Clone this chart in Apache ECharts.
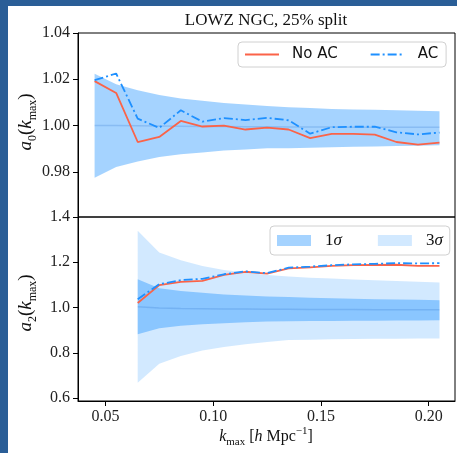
<!DOCTYPE html>
<html>
<head>
<meta charset="utf-8">
<script src="https://cdn.jsdelivr.net/npm/echarts@6/dist/echarts.min.js"></script>
<style>
html,body{margin:0;padding:0;background:#fff;}
#chart{width:457px;height:453px;}
</style>
</head>
<body>
<div id="chart"></div>
<script>
// ---- data ----
var kmax = [0.045,0.055,0.065,0.075,0.085,0.095,0.105,0.115,0.125,0.135,0.145,0.155,0.165,0.175,0.185,0.195,0.205];

var a0NoAC = [1.0192,1.0141,0.9929,0.9951,1.0020,0.9996,1.0000,0.9983,0.9991,0.9983,0.9946,0.9964,0.9964,0.9961,0.9929,0.9918,0.9926];
var a0AC   = [1.0196,1.0225,1.0030,0.9990,1.0066,1.0017,1.0032,1.0024,1.0033,1.0023,0.9965,0.9993,0.9995,0.9995,0.9971,0.9962,0.9970];
var a0Hi1  = [1.0224,1.0179,1.0153,1.0132,1.0117,1.0107,1.0098,1.0091,1.0085,1.0079,1.0076,1.0072,1.0070,1.0068,1.0066,1.0064,1.0062];
var a0Lo1  = [0.9775,0.9821,0.9845,0.9864,0.9876,0.9884,0.9892,0.9897,0.9902,0.9902,0.9904,0.9906,0.9908,0.9910,0.9912,0.9913,0.9915];
var a0Mean = [1.0000,1.0000,0.9999,0.9998,0.9997,0.9996,0.9996,0.9995,0.9995,0.9994,0.9994,0.9994,0.9993,0.9993,0.9993,0.9993,0.9993];

var a2NoAC = [null,null,1.020,1.099,1.113,1.118,1.144,1.158,1.150,1.173,1.177,1.184,1.187,1.188,1.189,1.184,1.184];
var a2AC   = [null,null,1.037,1.103,1.121,1.127,1.147,1.160,1.152,1.176,1.181,1.187,1.191,1.193,1.196,1.195,1.196];
var a2Hi3  = [null,null,1.339,1.243,1.209,1.184,1.166,1.155,1.144,1.137,1.132,1.128,1.124,1.120,1.117,1.114,1.111];
var a2Lo3  = [null,null,0.668,0.752,0.786,0.810,0.826,0.838,0.848,0.856,0.858,0.860,0.861,0.862,0.862,0.863,0.863];
var a2Hi1  = [null,null,1.125,1.085,1.073,1.065,1.058,1.053,1.049,1.046,1.043,1.041,1.039,1.037,1.035,1.034,1.032];
var a2Lo1  = [null,null,0.882,0.908,0.919,0.926,0.931,0.935,0.938,0.939,0.940,0.941,0.942,0.942,0.943,0.943,0.944];
var a2Mean = [null,null,1.003,0.998,0.996,0.995,0.994,0.993,0.992,0.992,0.991,0.991,0.991,0.990,0.990,0.990,0.990];

var xTicks  = [0.05,0.10,0.15,0.20];
var y0Ticks = [0.98,1.00,1.02,1.04];
var y2Ticks = [0.6,0.8,1.0,1.2,1.4];

// ---- styles ----
var RED = '#fb6348', BLUE = '#1e90ff';
var C1 = 'rgba(30,144,255,0.4)', C3 = 'rgba(30,144,255,0.2)';
var SERIF = '"Liberation Serif", "DejaVu Serif", serif';
var SANS = '"DejaVu Sans", sans-serif';

function pairs(arr){
  var out = [];
  for (var i = 0; i < kmax.length; i++) if (arr[i] !== null) out.push([kmax[i], arr[i]]);
  return out;
}
function band(name, gi, lo, hi, color){
  var d = [];
  for (var i = 0; i < kmax.length; i++) if (lo[i] !== null) d.push([kmax[i], lo[i], hi[i]]);
  return {
    type: 'custom', name: name, xAxisIndex: gi, yAxisIndex: gi,
    itemStyle: {color: color}, silent: true, z: 1,
    data: d,
    encode: {x: 0, y: [1, 2]},
    renderItem: function(params, api){
      if (params.dataIndex !== 0) return;
      var pts = [];
      for (var i = 0; i < d.length; i++) pts.push(api.coord([d[i][0], d[i][2]]));
      for (var j = d.length - 1; j >= 0; j--) pts.push(api.coord([d[j][0], d[j][1]]));
      return {type: 'polygon', shape: {points: pts}, style: {fill: color}};
    }
  };
}
function line(name, gi, arr, color, dashed, z){
  return {
    type: 'line', name: name, xAxisIndex: gi, yAxisIndex: gi,
    data: pairs(arr), symbol: 'circle', showSymbol: false, z: z, silent: true,
    lineStyle: {color: color, width: 1.8, type: dashed ? [9,3,2,3] : 'solid'},
    itemStyle: {color: color}
  };
}
function meanLine(gi, arr){
  return {type: 'line', xAxisIndex: gi, yAxisIndex: gi, data: pairs(arr), symbol: 'none', z: 2, silent: true,
    lineStyle: {color: 'rgba(40,110,200,0.22)', width: 1.5}};
}

var GL = 78, GW = 377;
var xBase = {type: 'value', min: 0.0373, max: 0.2122, splitLine: {show: false}};

var chart = echarts.init(document.getElementById('chart'), null, {renderer: 'canvas'});
chart.setOption({
  animation: false,
  backgroundColor: '#fff',
  grid: [
    {left: GL, top: 33, width: GW, height: 184, show: true, borderColor: '#000', borderWidth: 1, backgroundColor: 'transparent'},
    {left: GL, top: 217, width: GW, height: 184, show: true, borderColor: '#000', borderWidth: 1, backgroundColor: 'transparent'}
  ],
  xAxis: [
    Object.assign({}, xBase, {gridIndex: 0, axisLine: {show: false}, axisTick: {show: false}, axisLabel: {show: false}}),
    Object.assign({}, xBase, {gridIndex: 1,
      axisLine: {show: true, lineStyle: {color: '#000', width: 1}},
      axisTick: {show: true, length: 5, customValues: xTicks, lineStyle: {color: '#000'}},
      axisLabel: {customValues: xTicks, margin: 8, fontSize: 16, fontFamily: SERIF, color: '#222',
        formatter: function(v){ return v.toFixed(2); }}})
  ],
  yAxis: [
    {type: 'value', gridIndex: 0, min: 0.9605, max: 1.04, splitLine: {show: false},
      axisLine: {show: true, lineStyle: {color: '#000'}},
      axisTick: {show: true, length: 5, customValues: y0Ticks, lineStyle: {color: '#000'}},
      axisLabel: {customValues: y0Ticks, margin: 8, fontSize: 16, fontFamily: SERIF, color: '#222',
        formatter: function(v){ return v.toFixed(2); }}},
    {type: 'value', gridIndex: 1, min: 0.587, max: 1.4, splitLine: {show: false},
      axisLine: {show: true, lineStyle: {color: '#000'}},
      axisTick: {show: true, length: 5, customValues: y2Ticks, lineStyle: {color: '#000'}},
      axisLabel: {customValues: y2Ticks, margin: 8, fontSize: 16, fontFamily: SERIF, color: '#222',
        formatter: function(v){ return v.toFixed(1); }}}
  ],
  legend: [
    {left: 238, top: 42, orient: 'horizontal', data: ['No AC', 'AC'],
      itemWidth: 34, itemHeight: 12, itemGap: 32,
      itemStyle: {opacity: 0},
      padding: [5, 8, 5, 6], borderColor: '#d0d0d0', borderWidth: 1, borderRadius: 4,
      backgroundColor: 'rgba(255,255,255,0.85)', selectedMode: false,
      textStyle: {fontFamily: SANS, fontSize: 15, color: '#111', padding: [0, 0, 0, 8]}},
    {left: 270, top: 226, orient: 'horizontal',
      data: [{name: '1σ', icon: 'rect', itemStyle: {color: C1}}, {name: '3σ', icon: 'rect', itemStyle: {color: C3}}],
      itemWidth: 34, itemHeight: 11, itemGap: 36,
      padding: [6, 7, 6, 7], borderColor: '#d0d0d0', borderWidth: 1, borderRadius: 4,
      backgroundColor: 'rgba(255,255,255,0.85)', selectedMode: false,
      formatter: function(n){ return '{r|' + n.charAt(0) + '}{i|' + n.slice(1) + '}'; },
      textStyle: {padding: [0, 0, 0, 9], rich: {
        r: {fontFamily: SERIF, fontSize: 17, color: '#111'},
        i: {fontFamily: SERIF, fontSize: 17, fontStyle: 'italic', color: '#111'}}}}
  ],
  series: [
    band('1σ', 0, a0Lo1, a0Hi1, C1),
    meanLine(0, a0Mean),
    line('No AC', 0, a0NoAC, RED, false, 3),
    line('AC', 0, a0AC, BLUE, true, 4),
    band('3σ', 1, a2Lo3, a2Hi3, C3),
    band('1σ', 1, a2Lo1, a2Hi1, C1),
    meanLine(1, a2Mean),
    line('No AC', 1, a2NoAC, RED, false, 3),
    line('AC', 1, a2AC, BLUE, true, 4)
  ],
  graphic: [
    {type: 'rect', left: 0, top: 0, shape: {width: 8, height: 453}, style: {fill: '#2a5e97'}, z: 100},
    {type: 'rect', left: 0, top: 0, shape: {width: 457, height: 6}, style: {fill: '#2a5e97'}, z: 100},
    {type: 'text', x: 266, y: 21, style: {text: 'LOWZ NGC, 25% split', fontFamily: SERIF, fontSize: 17, fill: '#111',
      align: 'center', verticalAlign: 'middle'}},
    {type: 'text', x: 26, y: 122, rotation: Math.PI / 2, style: {
      text: '{i|a}{s|0}{n|(}{i|k}{s|max}{n|)}', align: 'center', verticalAlign: 'middle',
      rich: {
        i: {fontFamily: SERIF, fontStyle: 'italic', fontSize: 19, lineHeight: 26, fill: '#111'},
        n: {fontFamily: SERIF, fontSize: 19, lineHeight: 26, fill: '#111'},
        s: {fontFamily: SERIF, fontSize: 12, lineHeight: 14, verticalAlign: 'bottom', fill: '#111'}}}},
    {type: 'text', x: 26, y: 303, rotation: Math.PI / 2, style: {
      text: '{i|a}{s|2}{n|(}{i|k}{s|max}{n|)}', align: 'center', verticalAlign: 'middle',
      rich: {
        i: {fontFamily: SERIF, fontStyle: 'italic', fontSize: 19, lineHeight: 26, fill: '#111'},
        n: {fontFamily: SERIF, fontSize: 19, lineHeight: 26, fill: '#111'},
        s: {fontFamily: SERIF, fontSize: 12, lineHeight: 14, verticalAlign: 'bottom', fill: '#111'}}}},
    {type: 'text', x: 266, y: 437, style: {
      text: '{i|k}{s|max}{n| [}{i|h}{n| Mpc}{p|−1}{n|]}', align: 'center', verticalAlign: 'middle',
      rich: {
        i: {fontFamily: SERIF, fontStyle: 'italic', fontSize: 16, lineHeight: 22, fill: '#111'},
        n: {fontFamily: SERIF, fontSize: 16, lineHeight: 22, fill: '#111'},
        s: {fontFamily: SERIF, fontSize: 11, lineHeight: 13, verticalAlign: 'bottom', fill: '#111'},
        p: {fontFamily: SERIF, fontSize: 11, lineHeight: 13, verticalAlign: 'top', fill: '#111'}}}}
  ]
});
</script>
</body>
</html>
